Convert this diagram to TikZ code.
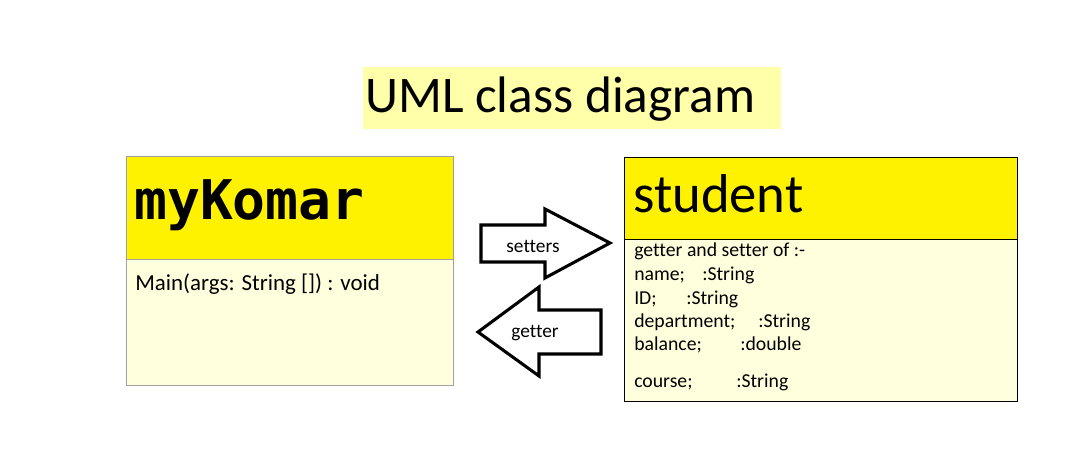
\documentclass[tikz,border=0pt]{standalone}
\usepackage{fontspec}
\setmainfont{Carlito}[Ligatures=NoCommon]
\newfontfamily\umlmono{DejaVu Sans Mono}
\usetikzlibrary{positioning}
\definecolor{umlYellow}{HTML}{FFF200}
\definecolor{umlPale}{HTML}{FFFFDD}
\definecolor{umlTitle}{HTML}{FFFFAA}
\definecolor{umlGray}{HTML}{A0A0A0}
\tikzset{
  uml head/.style={draw, fill=umlYellow, line width=0.75pt, anchor=north west, inner sep=0pt},
  uml body/.style={draw, fill=umlPale, line width=0.75pt, anchor=north west, inner sep=0pt},
  uml arrow/.style={draw=black, fill=white, line width=2.3pt, line join=miter},
  uml text/.style={anchor=base west, inner sep=0pt, font=\fontsize{14.8}{17}\selectfont},
  uml label/.style={inner sep=0pt, font=\fontsize{14.5}{16}\selectfont},
}

\begin{document}
\begin{tikzpicture}[x=0.75pt, y=-0.75pt]
  \useasboundingbox (0,0) rectangle (1070,452);

  % title
  \fill[umlTitle] (363,67) rectangle (781,129);
  \node[anchor=base west, inner sep=0pt, font=\fontsize{38.5}{40}\selectfont] (title) at (365,113) {UML class diagram};

  % class myKomar
  \node[uml head, draw=umlGray, minimum width=245.25pt, minimum height=77.25pt] (komarHead) at (126,156) {};
  \node[uml body, draw=umlGray, minimum width=245.25pt, minimum height=94.5pt] (komarBody) at (126,259) {};
  \node[anchor=base west, inner sep=0pt, font=\umlmono\bfseries\fontsize{41}{43}\selectfont] (komarName) at (134,220) {myKomar};
  \node[uml text, font=\fontsize{17.2}{19}\selectfont] (komarMain) at (135,290) {Main(args: String []) : void};

  % class student
  \node[uml head, minimum width=294.75pt, minimum height=61.5pt] (studentHead) at (624,157) {};
  \node[uml body, minimum width=294.75pt, minimum height=121.5pt] (studentBody) at (624,239) {};
  \node[anchor=base west, inner sep=0pt, font=\fontsize{41}{43}\selectfont] (studentName) at (633,213) {student};
  \node[uml text] (studentIntro) at (634,257) {getter and setter of :-};
  \foreach \y/\nm/\w/\ty in {281/name;/51pt/String, 304/ID;/39pt/String, 327/department;/93pt/String,
      350/balance;/79.5pt/double, 387/course;/76.5pt/String} {
    \node[uml text] (attr-\y) at (634,\y) {\makebox[\w][l]{\nm}:\ty};
  }

  % setters arrow
  \draw[uml arrow] (481,225) -- (545,225) -- (545,209) -- (610,243) -- (545,278) -- (545,262) -- (481,262) -- cycle;
  \node[uml label] (setters) at (533,246) {setters};

  % getter arrow
  \draw[uml arrow] (601,310) -- (539,310) -- (539,287) -- (478,332) -- (539,376) -- (539,354) -- (601,354) -- cycle;
  \node[uml label] (getter) at (535,333) {getter};
\end{tikzpicture}
\end{document}
